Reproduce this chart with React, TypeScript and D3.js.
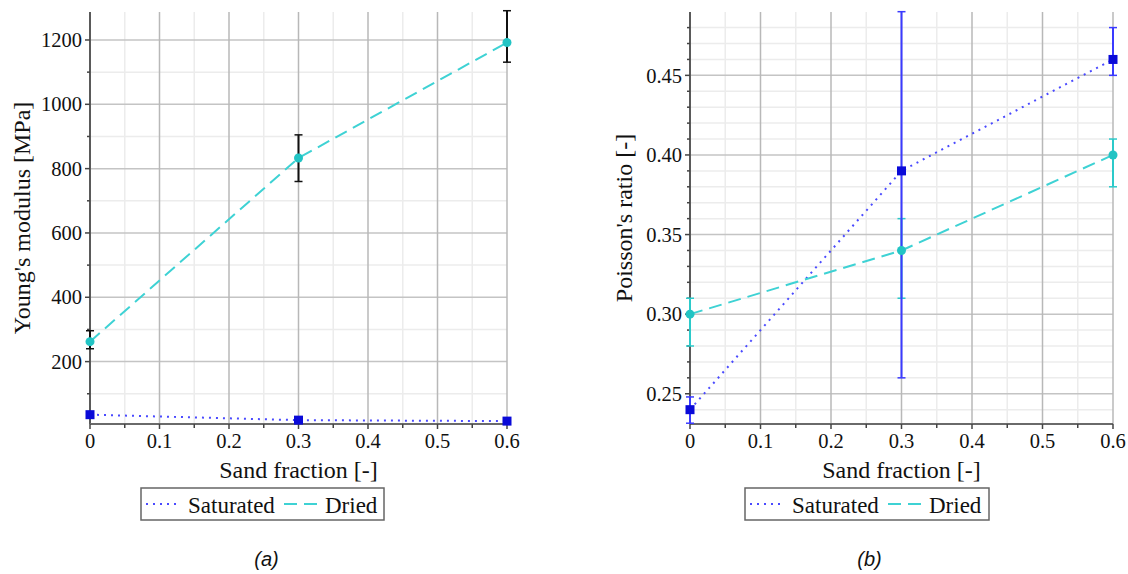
import React from "react";
import * as d3 from "d3";

const sandFraction = [0, 0.3, 0.6];
const xTicks = [0, 0.1, 0.2, 0.3, 0.4, 0.5, 0.6];
const xMinorTicks = [0.05, 0.15, 0.25, 0.35, 0.45, 0.55];

const youngSaturated = [35, 18, 15];
const youngSaturatedLow = [28, 14, 12];
const youngSaturatedHigh = [42, 22, 18];
const youngDried = [262, 833, 1192];
const youngDriedLow = [240, 760, 1131];
const youngDriedHigh = [296, 905, 1291];
const youngTicks = [200, 400, 600, 800, 1000, 1200];
const youngMinorTicks = [100, 300, 500, 700, 900, 1100];

const poissonSaturated = [0.24, 0.39, 0.46];
const poissonSaturatedLow = [0.2315, 0.26, 0.45];
const poissonSaturatedHigh = [0.248, 0.49, 0.48];
const poissonDried = [0.3, 0.34, 0.4];
const poissonDriedLow = [0.28, 0.31, 0.38];
const poissonDriedHigh = [0.31, 0.36, 0.41];
const poissonTicks = [0.25, 0.3, 0.35, 0.4, 0.45];
const poissonMinorTicks = [0.24, 0.26, 0.27, 0.28, 0.29, 0.31, 0.32, 0.33, 0.34, 0.36, 0.37, 0.38, 0.39, 0.41, 0.42, 0.43, 0.44, 0.46, 0.47, 0.48];

const SERIF = "Liberation Serif, Tinos, DejaVu Serif, serif";
const SANS = "Liberation Sans, Arimo, Arial, sans-serif";
const SAT_LINE = "#4a4aff";
const SAT_MARK = "#0a0ad8";
const DRY_LINE = "#3ed2d4";
const DRY_MARK = "#22c4c4";

const serifStyle = { fontFamily: SERIF };

type PanelProps = {
  x0: number; x1: number; yTop: number; yBot: number;
  yDomain: [number, number];
  yTicks: number[]; yMinor: number[]; yFmt: (v: number) => string;
  yTitle: string; yTitleX: number;
  sat: number[]; satLo: number[]; satHi: number[];
  dry: number[]; dryLo: number[]; dryHi: number[];
  satErrColor: string; dryErrColor: string;
  legendX: number; legendW: number; caption: string;
};

function Panel(p: PanelProps) {
  const x = d3.scaleLinear().domain([0, 0.6]).range([p.x0, p.x1]);
  const y = d3.scaleLinear().domain(p.yDomain).range([p.yBot, p.yTop]);
  const line = d3.line<number>().x((_, i) => x(sandFraction[i])).y((d) => y(d));
  const midX = (p.x0 + p.x1) / 2;
  const midY = (p.yTop + p.yBot) / 2;
  const cap = 4;
  const errBars = (lo: number[], hi: number[], color: string, key: string) =>
    sandFraction.map((s, i) => (
      <g key={key + i} stroke={color} strokeWidth={2}>
        <line x1={x(s)} x2={x(s)} y1={y(lo[i])} y2={y(hi[i])} />
        <line x1={x(s) - cap} x2={x(s) + cap} y1={y(lo[i])} y2={y(lo[i])} strokeWidth={1.5} />
        <line x1={x(s) - cap} x2={x(s) + cap} y1={y(hi[i])} y2={y(hi[i])} strokeWidth={1.5} />
      </g>
    ));
  const lx = p.legendX;
  return (
    <g>
      {p.yMinor.map((t) => (
        <line key={"ym" + t} x1={p.x0} x2={p.x1} y1={y(t)} y2={y(t)} stroke="#ececec" strokeWidth={1.5} />
      ))}
      {xMinorTicks.map((t) => (
        <line key={"xm" + t} x1={x(t)} x2={x(t)} y1={p.yTop} y2={p.yBot} stroke="#ececec" strokeWidth={1.5} />
      ))}
      {p.yTicks.map((t) => (
        <line key={"yg" + t} x1={p.x0} x2={p.x1} y1={y(t)} y2={y(t)} stroke="#c4c4c4" strokeWidth={1.5} />
      ))}
      {xTicks.map((t) => (
        <line key={"xg" + t} x1={x(t)} x2={x(t)} y1={p.yTop} y2={p.yBot} stroke="#b8b8b8" strokeWidth={1.5} />
      ))}
      <line x1={p.x0} x2={p.x0} y1={p.yTop} y2={p.yBot} stroke="#5a5a5a" strokeWidth={2} />
      <line x1={p.x0} x2={p.x1} y1={p.yBot} y2={p.yBot} stroke="#6a6a6a" strokeWidth={2} />
      {p.yTicks.map((t) => (
        <line key={"yt" + t} x1={p.x0 - 5} x2={p.x0} y1={y(t)} y2={y(t)} stroke="#444" strokeWidth={1.5} />
      ))}
      {p.yMinor.map((t) => (
        <line key={"ymt" + t} x1={p.x0 - 3} x2={p.x0} y1={y(t)} y2={y(t)} stroke="#444" strokeWidth={1.5} />
      ))}
      {xTicks.map((t) => (
        <line key={"xt" + t} x1={x(t)} x2={x(t)} y1={p.yBot} y2={p.yBot + 5} stroke="#444" strokeWidth={1.5} />
      ))}
      {xMinorTicks.map((t) => (
        <line key={"xmt" + t} x1={x(t)} x2={x(t)} y1={p.yBot} y2={p.yBot + 4} stroke="#444" strokeWidth={1.5} />
      ))}
      {p.yTicks.map((t) => (
        <text key={"yl" + t} x={p.x0 - 8} y={y(t)} dy="0.35em" textAnchor="end" style={serifStyle} fontSize={20.5} fill="#111">
          {p.yFmt(t)}
        </text>
      ))}
      {xTicks.map((t) => (
        <text key={"xl" + t} x={x(t)} y={p.yBot + 24} textAnchor="middle" style={serifStyle} fontSize={20.5} fill="#111">
          {t === 0 ? "0" : d3.format(".1f")(t)}
        </text>
      ))}
      <text x={midX} y={p.yBot + 54} textAnchor="middle" style={serifStyle} fontSize={24} fill="#111">
        Sand fraction [-]
      </text>
      <text transform={`translate(${p.yTitleX},${midY}) rotate(-90)`} textAnchor="middle" style={serifStyle} fontSize={24} fill="#111">
        {p.yTitle}
      </text>
      <path d={line(p.sat) || ""} fill="none" stroke={SAT_LINE} strokeWidth={2} strokeDasharray="2,5" />
      <path d={line(p.dry) || ""} fill="none" stroke={DRY_LINE} strokeWidth={2} strokeDasharray="13,7" />
      {errBars(p.dryLo, p.dryHi, p.dryErrColor, "de")}
      {errBars(p.satLo, p.satHi, p.satErrColor, "se")}
      {sandFraction.map((s, i) => (
        <circle key={"dm" + i} cx={x(s)} cy={y(p.dry[i])} r={4.5} fill={DRY_MARK} />
      ))}
      {sandFraction.map((s, i) => (
        <rect key={"sm" + i} x={x(s) - 4.5} y={y(p.sat[i]) - 4.5} width={9} height={9} fill={SAT_MARK} />
      ))}
      <rect x={lx} y={488} width={p.legendW} height={32} fill="#fff" stroke="#666" strokeWidth={1.5} />
      <line x1={lx + 5} x2={lx + 36} y1={504} y2={504} stroke={SAT_LINE} strokeWidth={2} strokeDasharray="2,5" />
      <text x={lx + 47} y={512.5} style={serifStyle} fontSize={23} fill="#111">Saturated</text>
      <line x1={lx + 143} x2={lx + 178} y1={504} y2={504} stroke={DRY_LINE} strokeWidth={2} strokeDasharray="13,7" />
      <text x={lx + 184} y={512.5} style={serifStyle} fontSize={23} fill="#111">Dried</text>
      <text x={midX - 32} y={566} textAnchor="middle" style={{ fontFamily: SANS }} fontStyle="italic" fontSize={20} fill="#111">
        {p.caption}
      </text>
    </g>
  );
}

export default function App() {
  return (
    <svg width={1128} height={574} style={{ position: "absolute", left: 0, top: 0, background: "#fff" }}>
      <rect width={1128} height={574} fill="#fff" />
      <Panel
        x0={90} x1={507} yTop={12} yBot={424}
        yDomain={[6, 1287]}
        yTicks={youngTicks} yMinor={youngMinorTicks} yFmt={(v) => String(v)}
        yTitle="Young's modulus [MPa]" yTitleX={30}
        sat={youngSaturated} satLo={youngSaturatedLow} satHi={youngSaturatedHigh}
        dry={youngDried} dryLo={youngDriedLow} dryHi={youngDriedHigh}
        satErrColor="#111" dryErrColor="#111"
        legendX={141} legendW={243} caption="(a)"
      />
      <Panel
        x0={690} x1={1113} yTop={12} yBot={424}
        yDomain={[0.231, 0.4898]}
        yTicks={poissonTicks} yMinor={poissonMinorTicks} yFmt={(v) => d3.format(".2f")(v)}
        yTitle="Poisson's ratio [-]" yTitleX={632}
        sat={poissonSaturated} satLo={poissonSaturatedLow} satHi={poissonSaturatedHigh}
        dry={poissonDried} dryLo={poissonDriedLow} dryHi={poissonDriedHigh}
        satErrColor="#3a3aff" dryErrColor="#2ccaca"
        legendX={745} legendW={244} caption="(b)"
      />
    </svg>
  );
}
